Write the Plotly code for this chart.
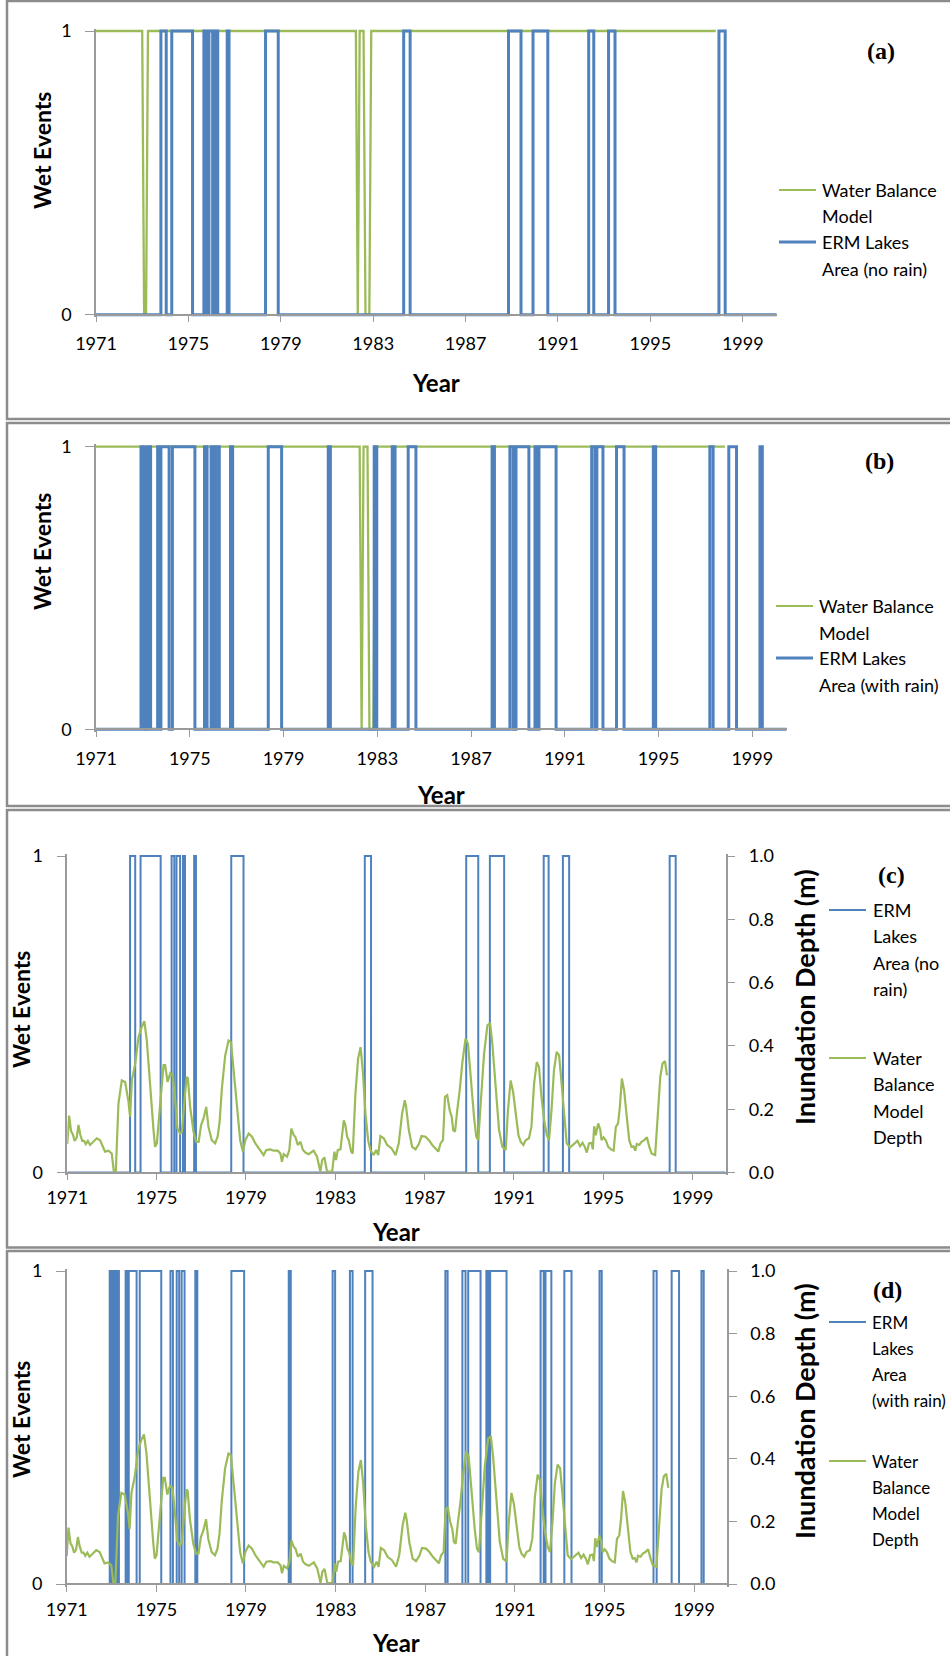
import plotly.graph_objects as go

W, H = 950, 1656

# ---------------- data ----------------
TICK_YEARS = [1971, 1975, 1979, 1983, 1987, 1991, 1995, 1999]
TICK_LABELS = ["1971", "1975", "1979", "1983", "1987", "1991", "1995", "1999"]
WET_TICKS = [0, 1]
WET_TICK_LABELS = ["0", "1"]
DEPTH_TICKS = [0.0, 0.2, 0.4, 0.6, 0.8, 1.0]
DEPTH_TICK_LABELS = ["0.0", "0.2", "0.4", "0.6", "0.8", "1.0"]

START_YEAR = 1971
END_YEAR = 2000.47

# Water balance model wet/dry state, monthly from Jan 1971 (1 = wet)
WB_N_MONTHS = 323
WB_DRY_MONTHS = [25, 26, 136, 140, 141, 142]

# ERM lakes area wet periods (decimal years)
ERM_NO_RAIN_WET = [
    (1973.81, 1974.04), (1974.28, 1975.18), (1975.67, 1975.79),
    (1975.89, 1976.05), (1976.18, 1976.27), (1976.68, 1976.76),
    (1978.34, 1978.89), (1984.32, 1984.60), (1988.86, 1989.40),
    (1989.92, 1990.56), (1992.33, 1992.55), (1993.19, 1993.47),
    (1997.97, 1998.24),
]
ERM_RAIN_WET = [
    (1972.92, 1973.00), (1973.08, 1973.17), (1973.25, 1973.33),
    (1973.63, 1973.71), (1973.77, 1974.12), (1974.26, 1975.22),
    (1975.63, 1975.74), (1975.91, 1976.02), (1976.13, 1976.26),
    (1976.74, 1976.83), (1978.35, 1978.92), (1980.91, 1981.00),
    (1982.87, 1982.98), (1983.64, 1983.76), (1984.32, 1984.65),
    (1987.90, 1988.00), (1988.66, 1988.80), (1988.92, 1989.47),
    (1989.73, 1989.82), (1989.90, 1990.63), (1992.15, 1992.29),
    (1992.37, 1992.63), (1993.21, 1993.53), (1994.78, 1994.88),
    (1997.19, 1997.33), (1998.00, 1998.33), (1999.33, 1999.43),
]

# Water balance model inundation depth (m)
DEPTH_YEARS = [
    1971.00, 1971.08, 1971.17, 1971.25, 1971.33, 1971.42, 1971.50, 1971.58,
    1971.67, 1971.75, 1971.83, 1971.92, 1972.02, 1972.17, 1972.32, 1972.47,
    1972.60, 1972.69, 1972.84, 1972.99, 1973.08, 1973.17, 1973.29, 1973.44,
    1973.59, 1973.74, 1973.81, 1973.89, 1974.04, 1974.19, 1974.33, 1974.45,
    1974.56, 1974.71, 1974.86, 1974.93, 1975.01, 1975.16, 1975.31, 1975.38,
    1975.49, 1975.61, 1975.72, 1975.83, 1975.93, 1976.05, 1976.13, 1976.28,
    1976.35, 1976.40, 1976.50, 1976.65, 1976.77, 1976.88, 1976.99, 1977.10,
    1977.22, 1977.32, 1977.47, 1977.62, 1977.73, 1977.82, 1977.92, 1978.07,
    1978.22, 1978.33, 1978.45, 1978.60, 1978.74, 1978.86, 1978.97, 1979.12,
    1979.27, 1979.42, 1979.57, 1979.79, 1979.91, 1980.09, 1980.24, 1980.42,
    1980.54, 1980.61, 1980.69, 1980.84, 1980.94, 1981.03, 1981.14, 1981.21,
    1981.32, 1981.44, 1981.55, 1981.66, 1981.81, 1982.03, 1982.18, 1982.33,
    1982.41, 1982.51, 1982.63, 1982.78, 1982.86, 1982.96, 1983.03, 1983.11,
    1983.23, 1983.38, 1983.45, 1983.53, 1983.60, 1983.71, 1983.78, 1983.90,
    1984.02, 1984.13, 1984.23, 1984.35, 1984.47, 1984.57, 1984.72, 1984.83,
    1984.92, 1985.02, 1985.17, 1985.32, 1985.52, 1985.70, 1985.84, 1985.99,
    1986.11, 1986.17, 1986.29, 1986.44, 1986.59, 1986.74, 1986.86, 1987.04,
    1987.19, 1987.34, 1987.49, 1987.61, 1987.71, 1987.82, 1987.91, 1988.01,
    1988.12, 1988.21, 1988.28, 1988.36, 1988.46, 1988.57, 1988.69, 1988.83,
    1988.94, 1989.06, 1989.21, 1989.31, 1989.40, 1989.51, 1989.66, 1989.81,
    1989.93, 1990.03, 1990.18, 1990.33, 1990.48, 1990.63, 1990.73, 1990.85,
    1990.96, 1991.08, 1991.20, 1991.30, 1991.42, 1991.52, 1991.67, 1991.78,
    1991.90, 1992.02, 1992.12, 1992.23, 1992.35, 1992.47, 1992.57, 1992.68,
    1992.79, 1992.91, 1993.02, 1993.12, 1993.24, 1993.36, 1993.51, 1993.69,
    1993.84, 1993.96, 1994.07, 1994.17, 1994.26, 1994.36, 1994.47, 1994.53,
    1994.59, 1994.66, 1994.77, 1994.86, 1994.92, 1995.01, 1995.11, 1995.22,
    1995.34, 1995.46, 1995.56, 1995.66, 1995.74, 1995.83, 1995.93, 1996.05,
    1996.16, 1996.26, 1996.35, 1996.43, 1996.50, 1996.61, 1996.71, 1996.83,
    1996.95, 1997.06, 1997.16, 1997.32, 1997.43, 1997.55, 1997.65, 1997.76,
    1997.85,
]
DEPTH_M = [
    0.090, 0.180, 0.130, 0.120, 0.100, 0.110, 0.150, 0.120,
    0.100, 0.100, 0.090, 0.100, 0.087, 0.097, 0.108, 0.102,
    0.080, 0.066, 0.069, 0.060, 0.005, 0.000, 0.218, 0.291,
    0.286, 0.223, 0.176, 0.291, 0.344, 0.428, 0.460, 0.478,
    0.417, 0.260, 0.134, 0.081, 0.092, 0.218, 0.339, 0.339,
    0.286, 0.314, 0.307, 0.228, 0.139, 0.123, 0.129, 0.255,
    0.302, 0.297, 0.207, 0.129, 0.097, 0.097, 0.150, 0.171,
    0.207, 0.144, 0.102, 0.092, 0.113, 0.160, 0.265, 0.370,
    0.417, 0.412, 0.323, 0.197, 0.102, 0.066, 0.102, 0.123,
    0.113, 0.092, 0.076, 0.055, 0.071, 0.073, 0.069, 0.069,
    0.060, 0.034, 0.058, 0.050, 0.071, 0.139, 0.118, 0.113,
    0.087, 0.097, 0.071, 0.063, 0.058, 0.069, 0.050, 0.003,
    0.039, 0.048, 0.003, 0.003, 0.003, 0.066, 0.039, 0.071,
    0.073, 0.165, 0.150, 0.113, 0.102, 0.066, 0.060, 0.249,
    0.360, 0.396, 0.323, 0.186, 0.102, 0.071, 0.055, 0.071,
    0.055, 0.115, 0.108, 0.087, 0.076, 0.055, 0.092, 0.186,
    0.228, 0.207, 0.134, 0.081, 0.073, 0.090, 0.115, 0.113,
    0.102, 0.087, 0.076, 0.066, 0.092, 0.102, 0.239, 0.244,
    0.197, 0.176, 0.134, 0.129, 0.197, 0.260, 0.349, 0.423,
    0.407, 0.302, 0.176, 0.113, 0.102, 0.218, 0.375, 0.465,
    0.472, 0.407, 0.260, 0.134, 0.081, 0.071, 0.197, 0.291,
    0.255, 0.176, 0.118, 0.097, 0.087, 0.102, 0.108, 0.144,
    0.281, 0.349, 0.333, 0.239, 0.165, 0.118, 0.102, 0.197,
    0.323, 0.381, 0.370, 0.291, 0.186, 0.092, 0.079, 0.090,
    0.100, 0.083, 0.094, 0.081, 0.063, 0.092, 0.094, 0.073,
    0.146, 0.118, 0.155, 0.136, 0.102, 0.111, 0.102, 0.081,
    0.073, 0.069, 0.144, 0.155, 0.207, 0.297, 0.260, 0.176,
    0.102, 0.081, 0.083, 0.069, 0.090, 0.087, 0.097, 0.102,
    0.111, 0.081, 0.060, 0.055, 0.176, 0.302, 0.344, 0.352,
    0.307,
]

# ---------------- styling ----------------
BLUE = "#4F81BD"
GREEN = "#9BBB59"
AXIS_GREY = "#9A9A9A"
BORDER_GREY = "#8C8C8C"
FONT = "Lato"
TICK_FONT = dict(family=FONT, size=18, color="black")
KEY_SIZE = 18
PAD = 2.5  # px kept around the 0..1 band so edge lines are not clipped


def px_x(x):
    return x / W


def px_y(y):
    return 1 - y / H


def wb_series():
    xs, ys = [], []
    for m in range(WB_N_MONTHS):
        xs.append(START_YEAR + m / 12)
        ys.append(0 if m in WB_DRY_MONTHS else 1)
    return xs, ys


def step_series(wet):
    xs, ys = [START_YEAR], [0]
    for s, e in wet:
        xs += [s, e]
        ys += [1, 0]
    xs.append(END_YEAR)
    ys.append(0)
    return xs, ys


# plot-area geometry for the four panels
# (pixels: left, right, y of value 0, y of value 1, year-label standoff)
PANELS = [
    dict(x0=96.0, x1=776.7, y0=314.7, y1=31.0, standoff=6),
    dict(x0=96.0, x1=786.7, y0=729.3, y1=446.7, standoff=6),
    dict(x0=67.3, x1=725.5, y0=1172.5, y1=856.0, standoff=2),
    dict(x0=66.7, x1=727.0, y0=1584.0, y1=1271.0, standoff=3),
]

fig = go.Figure()
layout = dict(
    template="none",
    width=W, height=H, margin=dict(l=0, r=0, t=0, b=0, pad=0, autoexpand=False),
    paper_bgcolor="white", plot_bgcolor="rgba(0,0,0,0)",
    showlegend=False, font=dict(family=FONT, color="black"),
)

wb_x, wb_y = wb_series()
nr_x, nr_y = step_series(ERM_NO_RAIN_WET)
wr_x, wr_y = step_series(ERM_RAIN_WET)

right_axis_names = {2: "y5", 3: "y6"}

common_axis = dict(
    showline=True, linecolor=AXIS_GREY, linewidth=1.5,
    ticks="outside", tickcolor=AXIS_GREY, tickwidth=1.2,
    tickfont=TICK_FONT, showgrid=False, zeroline=False, automargin=False,
    fixedrange=True,
)

for i, p in enumerate(PANELS):
    n = "" if i == 0 else str(i + 1)
    xa, ya = "x" + n, "y" + n
    span = p["y0"] - p["y1"]
    pad = PAD / span
    ydomain = [px_y(p["y0"] + PAD), px_y(p["y1"] - PAD)]
    layout["xaxis" + n] = dict(
        common_axis,
        domain=[px_x(p["x0"]), px_x(p["x1"])], range=[START_YEAR, END_YEAR],
        anchor="free", position=px_y(p["y0"]), ticklen=7,
        tickvals=TICK_YEARS, ticktext=TICK_LABELS,
        ticklabelstandoff=p["standoff"],
    )
    layout["yaxis" + n] = dict(
        common_axis,
        domain=ydomain, range=[-pad, 1 + pad], anchor=xa, ticklen=9,
        tickvals=WET_TICKS, ticktext=WET_TICK_LABELS, ticklabelstandoff=10,
    )
    if i < 2:
        erm_x, erm_y = (nr_x, nr_y) if i == 0 else (wr_x, wr_y)
        fig.add_trace(go.Scatter(x=wb_x, y=wb_y, xaxis=xa, yaxis=ya, mode="lines",
                                 line=dict(color=GREEN, width=2.3),
                                 name="Water Balance Model"))
        fig.add_trace(go.Scatter(x=erm_x, y=erm_y, xaxis=xa, yaxis=ya, mode="lines",
                                 line=dict(color=BLUE, width=3, shape="hv"),
                                 name="ERM Lakes Area"))
    else:
        yr = right_axis_names[i]
        layout["yaxis" + yr[1:]] = dict(
            common_axis,
            range=[-pad, 1 + pad], overlaying=ya, side="right", anchor=xa,
            ticklen=8, tickvals=DEPTH_TICKS, ticktext=DEPTH_TICK_LABELS,
            ticklabelstandoff=10,
        )
        erm_x, erm_y = (nr_x, nr_y) if i == 2 else (wr_x, wr_y)
        fig.add_trace(go.Scatter(x=erm_x, y=erm_y, xaxis=xa, yaxis=ya, mode="lines",
                                 line=dict(color=BLUE, width=2, shape="hv"),
                                 name="ERM Lakes Area"))
        fig.add_trace(go.Scatter(x=DEPTH_YEARS, y=DEPTH_M, xaxis=xa, yaxis=yr,
                                 mode="lines", line=dict(color=GREEN, width=2.2),
                                 name="Water Balance Model Depth"))

shapes = []
annotations = []


def text(x, y, s, size=KEY_SIZE, bold=False, anchor="left", angle=0, family=FONT):
    annotations.append(dict(
        x=px_x(x), y=px_y(y), xref="paper", yref="paper", text=s,
        showarrow=False, xanchor=anchor, yanchor="middle", textangle=angle,
        font=dict(family=family, size=size, color="black",
                  weight="bold" if bold else "normal"),
    ))


def key_line(x0, x1, y, color, width=2):
    shapes.append(dict(type="line", xref="paper", yref="paper",
                       x0=px_x(x0), x1=px_x(x1), y0=px_y(y), y1=px_y(y),
                       line=dict(color=color, width=width)))


# panel frames
for top, bottom in [(1, 419), (423, 806), (810, 1247.5), (1251, 1680)]:
    shapes.append(dict(type="rect", xref="paper", yref="paper",
                       x0=px_x(7), x1=px_x(990), y0=px_y(bottom), y1=px_y(top),
                       line=dict(color=BORDER_GREY, width=2.5)))

# axis titles and panel letters
for cx, cy, wy, yy, letter, lx, ly in [
    (42, 151, 436, 382, "(a)", 881, 51),
    (42, 552, 441, 794, "(b)", 879, 461),
    (21, 1010, 396, 1231, "(c)", 891, 875),
    (21, 1420, 396, 1642, "(d)", 887, 1290),
]:
    text(cx, cy, "Wet Events", size=23, bold=True, anchor="center", angle=-90)
    text(wy, yy, "Year", size=24, bold=True, anchor="center")
    text(lx, ly, letter, size=24, bold=True, anchor="center",
         family="Liberation Serif")

text(804, 997, "Inundation Depth (m)", size=27, bold=True, anchor="center", angle=-90)
text(804, 1411, "Inundation Depth (m)", size=27, bold=True, anchor="center", angle=-90)

# keys, panel (a)
key_line(779, 816, 190, GREEN, 2)
text(820, 190, "Water Balance")
text(820, 216.5, "Model")
key_line(779, 816, 242, BLUE, 3)
text(820, 242, "ERM Lakes")
text(820, 268.5, "Area (no rain)")

# keys, panel (b)
key_line(776, 813, 606, GREEN, 2)
text(817, 606, "Water Balance")
text(817, 632.5, "Model")
key_line(776, 813, 658, BLUE, 3)
text(817, 658, "ERM Lakes")
text(817, 684.5, "Area (with rain)")

# keys, panel (c)
key_line(829, 866, 910, BLUE, 1.8)
for k, s in enumerate(["ERM", "Lakes", "Area (no", "rain)"]):
    text(871, 910 + 26.3 * k, s)
key_line(829, 866, 1058, GREEN, 1.8)
for k, s in enumerate(["Water", "Balance", "Model", "Depth"]):
    text(871, 1058 + 26.3 * k, s)

# keys, panel (d)
key_line(829, 866, 1322, BLUE, 1.8)
for k, s in enumerate(["ERM", "Lakes", "Area", "(with rain)"]):
    text(870, 1322 + 26.3 * k, s, size=17)
key_line(829, 866, 1461, GREEN, 1.8)
for k, s in enumerate(["Water", "Balance", "Model", "Depth"]):
    text(870, 1461 + 26.3 * k, s, size=17)

layout["shapes"] = shapes
layout["annotations"] = annotations
fig.update_layout(**layout)
fig.write_html("out.html")
